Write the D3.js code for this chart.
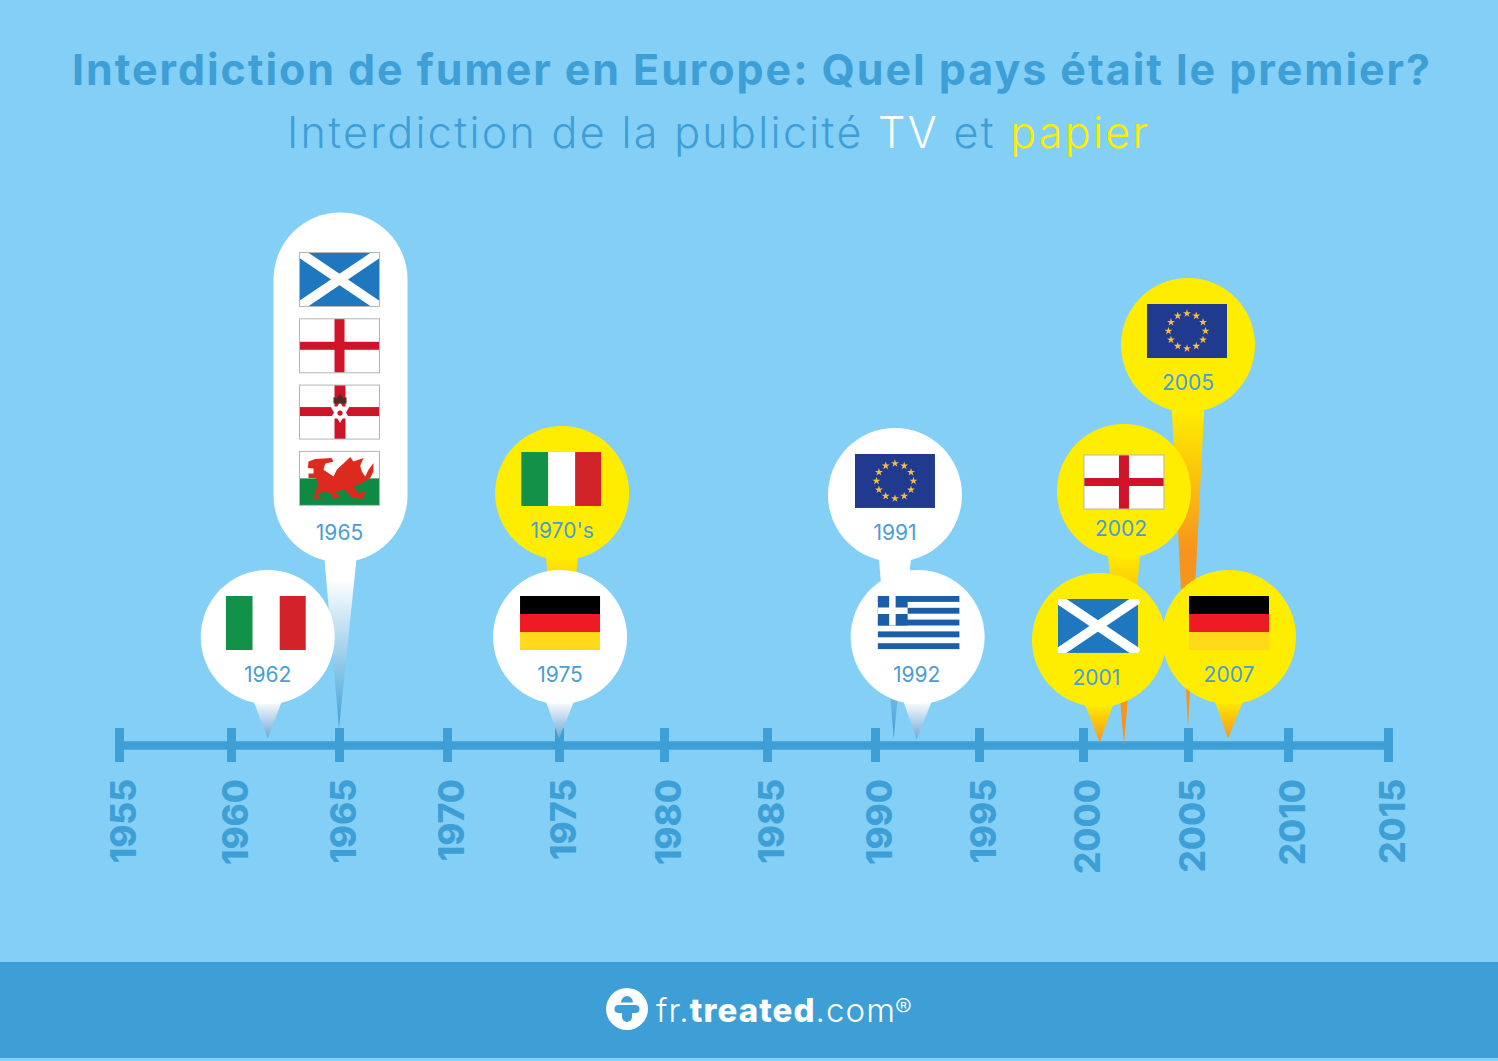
<!DOCTYPE html>
<html lang="fr">
<head>
<meta charset="utf-8">
<title>Interdiction de fumer en Europe</title>
<script src="https://cdn.jsdelivr.net/npm/d3@7/dist/d3.min.js"></script>
<style>
html,body{margin:0;padding:0;background:#84cff6;overflow:hidden}
svg{display:block}
text{font-family:Inter,"Open Sans",sans-serif}
</style>
</head>
<body>
<svg id="chart" width="1498" height="1061"></svg>
<script>
// ---------- data ----------
const titleText = "Interdiction de fumer en Europe: Quel pays était le premier?";
const subtitleParts = ["Interdiction de la publicité ", "TV", " et ", "papier"];
const tickYears = [1955,1960,1965,1970,1975,1980,1985,1990,1995,2000,2005,2010,2015];
// Draw order follows the overlaps in the picture.
const pinLabels = ["2005","1965","1970's","1991","2002","1962","1975","1992","2001","2007"];
const pinYears  = [2005,1965.07,1975.15,1990.96,2001.95,1961.7,1975.05,1992.05,2000.76,2007.05];
const pinTipYears = [2005,1965,1975,1990.9,2001.95,1961.7,1975,1992,2000.8,2007];
const pinLevels = [3,1.97,1.986,1.973,2,1,1,1,0.98,1];
const pinMedia  = ["paper","tv","paper","tv","paper","tv","tv","tv","paper","paper"];
const pinFlags  = [["eu"],["scotland","england","nireland","wales"],["italy"],["eu"],["england"],
                   ["italy"],["germany"],["greece"],["scotland"],["germany"]];

// ---------- styles and layout ----------
const bg="#84cff6", blue="#3e9fd6", yellow="#ffed00", orange="#f7941d", labelBlue="#4a9dd3";
const R=67, flagW=80, flagH=54, flagGap=66.3;
const tipGap   = {"2005":17,"1965":17,"1970's":7,"1991":7,"2002":0,"1962":7,"1975":7,"1992":6,"2001":3,"2007":7};
const flagNudgeX={"1962":-2,"1965":-1,"1970's":-1,"2001":-1,"2005":-1};
const flagNudgeY={"2002":5,"1965":-3};
const labelNudgeX={"1965":-1,"2001":-2.5,"2002":-3,"1992":-1};
const svg=d3.select("#chart");
const x=d3.scaleLinear().domain(tickYears)
  .range([119,231,339,447,559,664,767,875,979,1083,1188,1288,1388]);
const y=d3.scaleLinear().domain([1,3]).range([637,345]);
const axisY=745.5;
const defs=svg.append("defs");
defs.append("clipPath").attr("id","flagClip").append("rect").attr("width",flagW+2).attr("height",flagH);

svg.append("rect").attr("width",1498).attr("height",1061).attr("fill",bg);
svg.append("rect").attr("y",962).attr("width",1498).attr("height",96).attr("fill",blue);

// ---------- titles ----------
svg.append("text").attr("x",751).attr("y",84.5).attr("text-anchor","middle")
  .attr("textLength",1358).attr("lengthAdjust","spacing")
  .attr("font-size",43).attr("font-weight",700).attr("fill",blue).text(titleText);
const sub=svg.append("text").attr("x",717.5).attr("y",148).attr("text-anchor","middle")
  .attr("textLength",861).attr("lengthAdjust","spacing")
  .attr("font-size",43).attr("font-weight",300).attr("fill",blue);
sub.selectAll("tspan").data(subtitleParts).join("tspan")
  .attr("fill",(d,i)=>i===1?"#ffffff":i===3?yellow:blue)
  .style("white-space","pre").attr("xml:space","preserve").text(d=>d);

// ---------- axis ----------
const axis=d3.axisBottom(x).tickValues(tickYears).tickFormat(d3.format("d")).tickSizeOuter(0);
const gAxis=svg.append("g").attr("transform",`translate(0,${axisY})`).call(axis);
gAxis.select(".domain").attr("stroke",blue).attr("stroke-width",8.5).attr("d",`M${x(1955)},0H${x(2015)}`);
gAxis.selectAll(".tick line").attr("stroke",blue).attr("stroke-width",9).attr("y1",-17.5).attr("y2",16.5);
gAxis.selectAll(".tick text")
  .attr("fill",blue).attr("font-family","Inter,'Open Sans',sans-serif")
  .attr("font-size",35).attr("font-weight",800)
  .attr("text-anchor","end").attr("dy",0)
  .attr("transform","translate(16.5,33.5) rotate(-90)").attr("x",0).attr("y",0);

// ---------- flags ----------
function star(g,cx,cy,size,fill){
  g.append("path").attr("d",d3.symbol(d3.symbolStar,size)()).attr("transform",`translate(${cx},${cy})`).attr("fill",fill);
}
function rect(g,a,b,w,h,f){g.append("rect").attr("x",a).attr("y",b).attr("width",w).attr("height",h).attr("fill",f);}
const flagPainters={
  italy(g){rect(g,0,0,27,54,"#119248");rect(g,27,0,27,54,"#ffffff");rect(g,54,0,26,54,"#d2232a");},
  germany(g){rect(g,0,0,80,18,"#000000");rect(g,0,18,80,18,"#ed1c24");rect(g,0,36,80,18,"#ffd91a");},
  scotland(g){rect(g,0,0,80,54,"#1f78bf");
    g.append("path").attr("d","M0,0L80,54M80,0L0,54").attr("stroke","#fff").attr("stroke-width",9.5);},
  england(g){rect(g,0,0,80,54,"#ffffff");rect(g,35,0,10,54,"#cf1429");rect(g,0,23,80,8,"#cf1429");},
  nireland(g){rect(g,0,0,80,54,"#ffffff");rect(g,35,0,11,54,"#cf1429");rect(g,0,22,80,9,"#cf1429");
    g.append("path").attr("fill","#fff").attr("d","M40.5,17L50,33.5H31ZM40.5,38L31,21.5H50Z");
    g.append("circle").attr("cx",40.5).attr("cy",28).attr("r",2.6).attr("fill","#cf1429");
    g.append("path").attr("d","M34,18.5V12L37,13.5L40.5,8.5L44,13.5L47,12V18.5Z").attr("fill","#4a2f22");},
  wales(g){rect(g,0,0,80,27,"#ffffff");rect(g,0,27,80,27,"#0f8a44");
    g.append("path").attr("fill","#dd2a1f").attr("d",
     "M9,10L15.7,7.7L32,6.7L34,10L25.7,12.3L24,18.3L34,25L37.3,18.3L50.7,5.7L54,10L64,6.7L60.7,14.3L62.3,20L65.7,25L69,18.3L74,11.7L74,20L70.7,26.7L62.3,31.7L54,35L59,41.7L65.7,40L64,47.3L52.3,46.7L45.7,38.3L35.7,40L40.7,45L34,47.7L30.7,41.7L24,40L17.3,43.3L22.3,46.7L14,47.7L15.7,40L19,33.3L16,26.7L9,26.7L9,22L14,22L14,17L8.3,16.7Z");},
  eu(g){rect(g,0,0,80,54,"#1f3a8f");
    d3.range(12).forEach(i=>{const a=i*Math.PI/6;star(g,40+18.5*Math.cos(a),27+17.5*Math.sin(a),20,"#f3bf45");});},
  greece(g){const c="#1b5ea8";rect(g,0,0,82,53,"#fff");
    d3.range(5).forEach(i=>rect(g,0,i*11.8,82,5.9,c));
    rect(g,0,0,30,29.5,c);rect(g,11.5,0,6.5,29.5,"#fff");rect(g,0,11.5,30,6.5,"#fff");}
};

// ---------- pins ----------
const pins=pinLabels.map((label,i)=>({label,pos:pinYears[i],tip:pinTipYears[i],level:pinLevels[i],media:pinMedia[i],flags:pinFlags[i],i}));
const gPins=svg.append("g");
pins.forEach(p=>{
  const cx=x(p.pos), cy=y(p.level), tipX=x(p.tip), tipY=axisY-tipGap[p.label];
  const low=p.level<1.5;
  const paper=p.media==="paper";
  const fill=paper?yellow:"#ffffff";
  const end=paper?orange:(low?"#6ea6d8":blue);
  const id="grad"+p.i;
  const baseY=cy+(low?62:58);
  const grad=defs.append("linearGradient").attr("id",id).attr("gradientUnits","userSpaceOnUse")
    .attr("x1",0).attr("x2",0).attr("y1",baseY).attr("y2",tipY);
  const fillStop=low?0.05:(paper?0.02:0.15);
  [[0,fill],[fillStop,fill],[paper&&!low?0.45:1,end],[1,end]].forEach(s=>grad.append("stop").attr("offset",s[0]).attr("stop-color",s[1]));
  const g=gPins.append("g");
  const half=low?15:16.5;
  g.append("path").attr("d",`M${cx-half},${baseY}L${tipX},${tipY}L${cx+half},${baseY}Z`).attr("fill",`url(#${id})`);
  const extra=p.flags.length>1?(p.flags.length-1)*flagGap+17:0;
  g.append("rect").attr("x",cx-R).attr("y",cy-R-extra).attr("width",2*R).attr("height",2*R+extra)
    .attr("rx",R).attr("ry",R).attr("fill",fill);
  p.flags.forEach((f,k)=>{
    const fy=cy-41+(flagNudgeY[p.label]||0)-(p.flags.length-1-k)*flagGap;
    const fg=g.append("g").attr("transform",`translate(${cx-flagW/2+(flagNudgeX[p.label]||0)},${fy})`);
    flagPainters[f](fg.append("g").attr("clip-path","url(#flagClip)"));
    if(f==="england"||f==="nireland"||f==="wales"||(f==="scotland"&&!paper))
      fg.append("rect").attr("width",flagW).attr("height",flagH).attr("fill","none").attr("stroke","#b5b5b5").attr("stroke-width",1);
  });
  g.append("text").attr("x",cx+(labelNudgeX[p.label]||0)).attr("y",cy+45).attr("text-anchor","middle")
    .attr("font-size",21).attr("font-weight",400).attr("fill",labelBlue).text(p.label);
});

// ---------- footer logo ----------
const logo=svg.append("g");
logo.append("circle").attr("cx",627).attr("cy",1009).attr("r",21).attr("fill","#fff");
logo.append("path").attr("d","M621,1002.5a6,6.5 0 0 1 12,0Z").attr("fill",blue);
logo.append("rect").attr("x",614.5).attr("y",1005).attr("width",25).attr("height",8).attr("rx",4).attr("fill",blue);
logo.append("rect").attr("x",622).attr("y",1007).attr("width",10).attr("height",15).attr("rx",5).attr("fill",blue);
const ft=svg.append("text").attr("x",656).attr("y",1022).attr("font-size",33).attr("fill","#fff")
  .attr("textLength",239).attr("lengthAdjust","spacing");
ft.append("tspan").attr("font-weight",300).text("fr.");
ft.append("tspan").attr("font-weight",800).text("treated");
ft.append("tspan").attr("font-weight",300).text(".com");
svg.append("text").attr("x",895).attr("y",1017).attr("font-size",25).attr("font-weight",300).attr("fill","#fff").text("®");
</script>
</body>
</html>
